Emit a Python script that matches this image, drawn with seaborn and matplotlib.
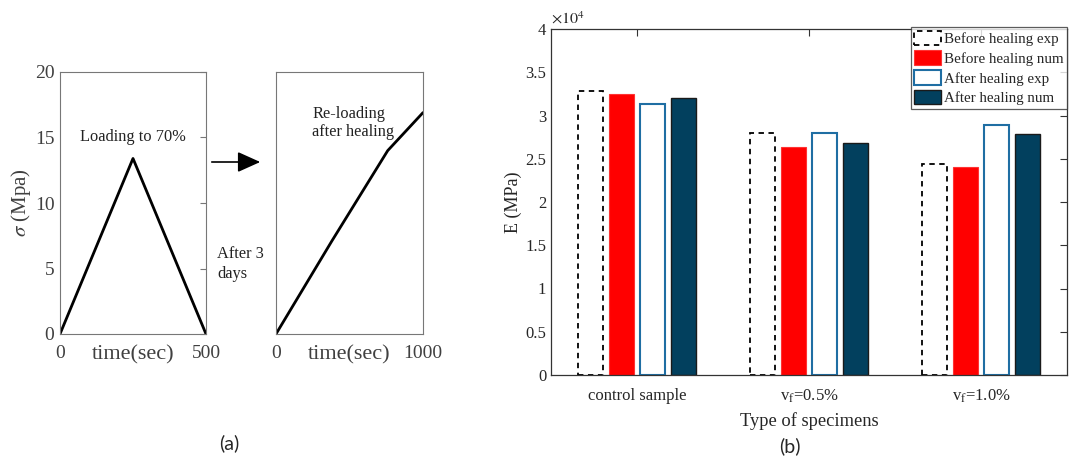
import numpy as np
import pandas as pd
import matplotlib
matplotlib.use("Agg")
import matplotlib.pyplot as plt
import seaborn as sns
from matplotlib.patches import Patch
from matplotlib.ticker import FuncFormatter, FixedLocator

# ---------------- data ----------------
categories = ["control sample", "v$_{\\mathrm{f}}$=0.5%", "v$_{\\mathrm{f}}$=1.0%"]
series = ["Before healing exp", "Before healing num", "After healing exp", "After healing num"]
before_exp = [32800, 28000, 24400]
before_num = [32500, 26400, 24000]
after_exp = [31300, 28000, 28850]
after_num = [32000, 26800, 27900]
yticks_b = [0, 5000, 10000, 15000, 20000, 25000, 30000, 35000, 40000]

load_t = [0, 250, 500]
load_s = [0, 13.4, 0]
reload_t = [0, 380, 760, 1000]
reload_s = [0, 7.1, 14.0, 16.9]
yticks_a = [0, 5, 10, 15, 20]

# ---------------- style ----------------
sns.set_style("white")
plt.rcParams["font.family"] = ["Liberation Serif", "DejaVu Serif"]
plt.rcParams["mathtext.fontset"] = "stix"

fig = plt.figure(figsize=(10.69, 4.58), dpi=100)

# ---------------- panel (a) ----------------
ax1 = fig.add_axes([60 / 1069, 1 - 334 / 458, 146 / 1069, 262 / 458])
ax2 = fig.add_axes([276 / 1069, 1 - 334 / 458, 147 / 1069, 262 / 458])

sns.lineplot(x=load_t, y=load_s, ax=ax1, color="black", lw=2.0)
sns.lineplot(x=reload_t, y=reload_s, ax=ax2, color="black", lw=2.0)

gray = "#404040"
for ax in (ax1, ax2):
    for s in ax.spines.values():
        s.set_color("#777777")
        s.set_linewidth(0.8)
        s.set_visible(True)
    ax.set_ylim(0, 20)

ax1.set_xlim(0, 500)
ax1.set_xticks([0, 500])
ax1.set_xticklabels(["0", "500"], fontsize=14, color=gray)
ax1.set_yticks(yticks_a)
ax1.set_yticklabels([str(v) for v in yticks_a], fontsize=14, color=gray)
ax1.tick_params(axis="y", direction="in", length=4, left=False, right=True, color="#777777", pad=4)
ax1.tick_params(axis="x", length=0, pad=8)
ax1.set_ylabel("$\\sigma$ (Mpa)", fontsize=15, color=gray, labelpad=1)
ax1.set_xlabel("time(sec)", fontsize=16, color=gray, labelpad=-12)
ax1.text(250, 14.4, "Loading to 70%", ha="center", va="bottom", fontsize=11.8, color="#222222")

ax2.set_xlim(0, 1000)
ax2.set_xticks([0, 1000])
ax2.set_xticklabels(["0", "1000"], fontsize=14, color=gray)
ax2.set_yticks([])
ax2.tick_params(axis="x", length=0, pad=8)
ax2.set_ylabel("")
ax2.set_xlabel("time(sec)", fontsize=16, color=gray, labelpad=-12)
ax2.text(245, 17.4, "Re-loading\nafter healing", ha="left", va="top", fontsize=11.8,
         color="#222222", linespacing=1.15)

fig.text(217 / 1069, 1 - 264 / 458, "After 3\ndays", ha="left", va="center", fontsize=11.8,
         color="#222222", linespacing=1.25)
fig.add_artist(matplotlib.patches.FancyArrowPatch(
    (209 / 1069, 1 - 162 / 458), (263 / 1069, 1 - 162 / 458), transform=fig.transFigure,
    arrowstyle="-|>,head_length=1.0,head_width=0.45", mutation_scale=14, color="black", lw=1.2))

fig.text(229 / 1069, 1 - 443 / 458, "(a)", ha="center", va="center", fontsize=14,
         family=["Lato", "DejaVu Sans"])

# ---------------- panel (b) ----------------
axb = fig.add_axes([551 / 1069, 1 - 375 / 458, 516 / 1069, 346 / 458])

df = pd.DataFrame({
    "specimen": categories * 4,
    "series": sum([[s] * 3 for s in series], []),
    "E": before_exp + before_num + after_exp + after_num,
})
face = ["white", "#ff0000", "white", "#02405e"]
sns.barplot(data=df, x="specimen", y="E", hue="series", order=categories, hue_order=series,
            palette=face, width=0.72, gap=0.167, saturation=1, legend=False, ax=axb)

styles = [
    dict(facecolor="white", edgecolor="black", linestyle=(0, (3, 2.5)), linewidth=1.3),
    dict(facecolor="#ff0000", edgecolor="#ff3333", linestyle="-", linewidth=0.8),
    dict(facecolor="white", edgecolor="#1f6ea3", linestyle="-", linewidth=1.5),
    dict(facecolor="#02405e", edgecolor="#1a1a1a", linestyle="-", linewidth=1.0),
]
for cont, st in zip(axb.containers, styles):
    for p in cont:
        p.set(**st)

axb.set_xlim(-0.5, 2.5)
axb.set_ylim(0, 40000)
axb.yaxis.set_major_locator(FixedLocator(yticks_b))
axb.yaxis.set_major_formatter(FuncFormatter(lambda v, p: f"{v / 1e4:g}"))
for s in axb.spines.values():
    s.set_visible(True)
    s.set_color("#333333")
    s.set_linewidth(0.9)
axb.tick_params(axis="both", direction="in", length=5, top=True, right=True,
                color="#333333", labelsize=12)
axb.tick_params(axis="x", labelsize=12, pad=9)
axb.set_ylabel("E (MPa)", fontsize=13, labelpad=2)
axb.set_xlabel("Type of specimens", fontsize=13.3, labelpad=5)
axb.text(0.0, 1.003, "$\\times10^{4}$", transform=axb.transAxes, ha="left", va="bottom",
         fontsize=11.5)

handles = [Patch(**st) for st in styles]
leg = axb.legend(handles, series, loc="upper right", bbox_to_anchor=(1.0, 1.006),
                 borderaxespad=0, fontsize=10.8, frameon=True, fancybox=False,
                 handlelength=1.8, handleheight=1.1, handletextpad=0.15,
                 labelspacing=0.3, borderpad=0.25)
leg.get_frame().set_edgecolor("#333333")
leg.get_frame().set_linewidth(0.9)

fig.text(790 / 1069, 1 - 446 / 458, "(b)", ha="center", va="center", fontsize=14,
         family=["Lato", "DejaVu Sans"])

fig.savefig("out.png", dpi=100)
